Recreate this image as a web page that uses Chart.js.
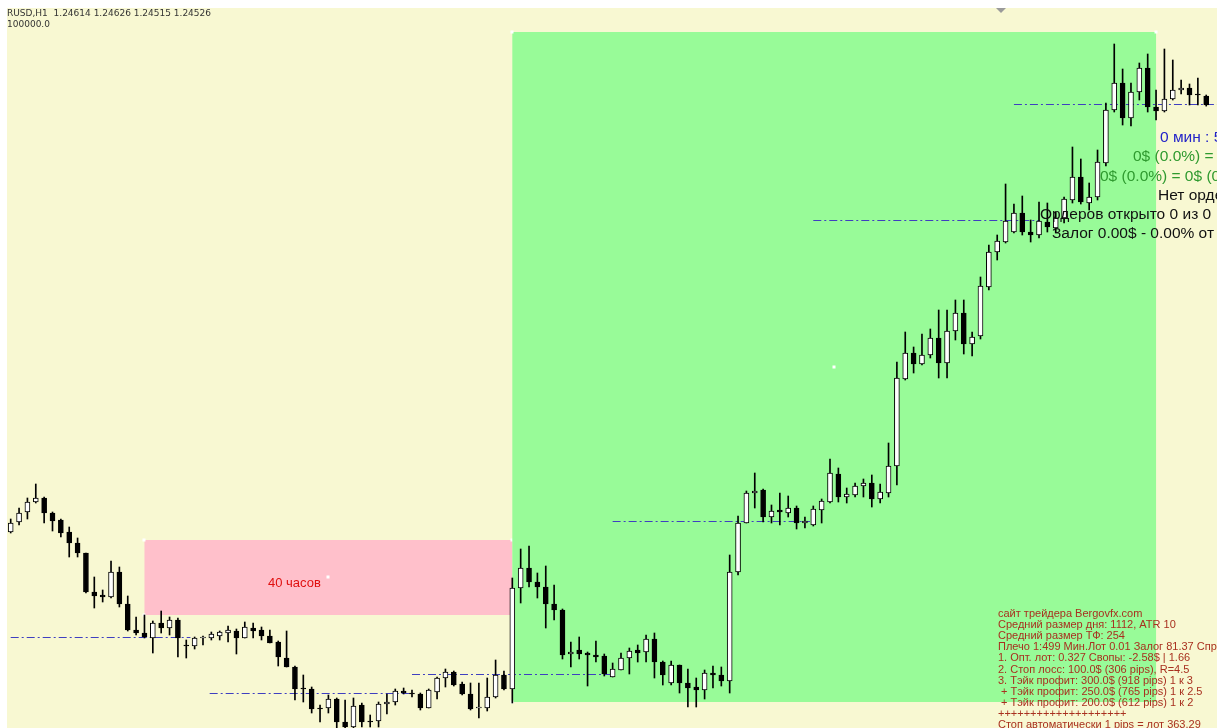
<!DOCTYPE html>
<html>
<head>
<meta charset="utf-8">
<script src="https://cdn.jsdelivr.net/npm/chart.js@4.4.0/dist/chart.umd.min.js"></script>
<style>
  html, body { margin: 0; padding: 0; background: #fff; overflow: hidden; }
  #wrap { width: 1217px; height: 728px; }
</style>
</head>
<body>
<div id="wrap"><canvas id="chart" width="1217" height="728"></canvas></div>
<script>
// H1 bars, oldest first
const opens = [
  1.20256, 1.20356, 1.20456, 1.20556, 1.20596, 1.20446, 1.20376, 1.20256, 1.20146, 1.20046,
  1.19656, 1.19626, 1.19606, 1.19856, 1.19536, 1.19276, 1.19246, 1.19196, 1.19346, 1.19296,
  1.19376, 1.19126, 1.19116, 1.19196, 1.19196, 1.19216, 1.19246, 1.19266, 1.19196, 1.19296,
  1.19276, 1.19216, 1.19156, 1.18996, 1.18906, 1.18696, 1.18686, 1.18496, 1.18496, 1.18586,
  1.18356, 1.18306, 1.18526, 1.18366, 1.18366, 1.18536, 1.18556, 1.18666, 1.18646, 1.18636,
  1.18496, 1.18656, 1.18796, 1.18856, 1.18736, 1.18636, 1.18496, 1.18496, 1.18606, 1.18826,
  1.18686, 1.19696, 1.19896, 1.19756, 1.19706, 1.19536, 1.19476, 1.19036, 1.19076, 1.19046,
  1.19026, 1.19016, 1.18806, 1.18876, 1.18996, 1.19076, 1.19056, 1.19186, 1.18956, 1.18746,
  1.18926, 1.18746, 1.18706, 1.18676, 1.18846, 1.18826, 1.18766, 1.19856, 1.20346, 1.20646,
  1.20676, 1.20406, 1.20476, 1.20446, 1.20496, 1.20346, 1.20326, 1.20476, 1.20556, 1.20836,
  1.20606, 1.20626, 1.20716, 1.20746, 1.20586, 1.20646, 1.20916, 1.21786, 1.22046, 1.21936,
  1.22026, 1.22196, 1.21946, 1.22266, 1.22446, 1.22136, 1.22216, 1.22706, 1.23056, 1.23156,
  1.23256, 1.23446, 1.23256, 1.23226, 1.23356, 1.23296, 1.23396, 1.23576, 1.23806, 1.23546,
  1.23606, 1.23946, 1.24476, 1.24746, 1.24396, 1.24656, 1.24896, 1.24506, 1.24466, 1.24586,
  1.24676, 1.24696, 1.24636, 1.24614
];
const highs = [
  1.20386, 1.20496, 1.20596, 1.20736, 1.20606, 1.20456, 1.20386, 1.20306, 1.20196, 1.20046,
  1.19806, 1.19676, 1.19966, 1.19906, 1.19616, 1.19406, 1.19426, 1.19366, 1.19466, 1.19406,
  1.19396, 1.19176, 1.19206, 1.19216, 1.19256, 1.19266, 1.19316, 1.19286, 1.19356, 1.19346,
  1.19306, 1.19276, 1.19166, 1.19266, 1.18916, 1.18826, 1.18706, 1.18526, 1.18626, 1.18596,
  1.18576, 1.18596, 1.18546, 1.18426, 1.18556, 1.18636, 1.18686, 1.18696, 1.18676, 1.18646,
  1.18686, 1.18806, 1.18886, 1.18866, 1.18756, 1.18746, 1.18746, 1.18796, 1.18976, 1.18866,
  1.19796, 1.20086, 1.20116, 1.19846, 1.19916, 1.19726, 1.19486, 1.19156, 1.19206, 1.19056,
  1.19166, 1.19036, 1.18946, 1.19046, 1.19096, 1.19126, 1.19226, 1.19246, 1.18966, 1.18966,
  1.18926, 1.18886, 1.18796, 1.18876, 1.18916, 1.18906, 1.20026, 1.20416, 1.20666, 1.20846,
  1.20686, 1.20526, 1.20646, 1.20616, 1.20516, 1.20406, 1.20516, 1.20586, 1.20986, 1.20896,
  1.20696, 1.20746, 1.20786, 1.20826, 1.20736, 1.21146, 1.21956, 1.22256, 1.22106, 1.22236,
  1.22286, 1.22476, 1.22476, 1.22576, 1.22576, 1.22256, 1.22806, 1.23126, 1.23226, 1.23736,
  1.23536, 1.23616, 1.23376, 1.23556, 1.23546, 1.23456, 1.23606, 1.24106, 1.23986, 1.23746,
  1.24076, 1.24546, 1.25136, 1.24886, 1.24746, 1.24946, 1.25036, 1.24676, 1.25086, 1.24976,
  1.24776, 1.24736, 1.24796, 1.24626
];
const lows = [
  1.20246, 1.20326, 1.20386, 1.20546, 1.20346, 1.20266, 1.20206, 1.20006, 1.20006, 1.19646,
  1.19496, 1.19556, 1.19596, 1.19506, 1.19266, 1.19226, 1.19196, 1.19046, 1.19246, 1.19226,
  1.19006, 1.18996, 1.19086, 1.19126, 1.19176, 1.19176, 1.19156, 1.19036, 1.19196, 1.19196,
  1.19176, 1.19146, 1.18916, 1.18906, 1.18576, 1.18556, 1.18446, 1.18356, 1.18446, 1.18296,
  1.18276, 1.18296, 1.18306, 1.18306, 1.18306, 1.18436, 1.18526, 1.18636, 1.18606, 1.18476,
  1.18496, 1.18586, 1.18706, 1.18716, 1.18626, 1.18476, 1.18396, 1.18466, 1.18596, 1.18676,
  1.18546, 1.19546, 1.19706, 1.19596, 1.19296, 1.19376, 1.18986, 1.18906, 1.18986, 1.18716,
  1.18956, 1.18816, 1.18806, 1.18876, 1.18836, 1.18956, 1.18956, 1.18796, 1.18726, 1.18726,
  1.18646, 1.18506, 1.18506, 1.18586, 1.18696, 1.18716, 1.18646, 1.19826, 1.20346, 1.20496,
  1.20356, 1.20346, 1.20326, 1.20406, 1.20286, 1.20296, 1.20316, 1.20346, 1.20546, 1.20556,
  1.20546, 1.20606, 1.20606, 1.20506, 1.20546, 1.20606, 1.20726, 1.21776, 1.21846, 1.21926,
  1.21996, 1.21796, 1.21796, 1.22176, 1.22036, 1.22016, 1.22186, 1.22676, 1.22976, 1.23146,
  1.23246, 1.23226, 1.23156, 1.23196, 1.23256, 1.23246, 1.23346, 1.23546, 1.23536, 1.23476,
  1.23576, 1.23916, 1.24456, 1.24326, 1.24316, 1.24576, 1.24456, 1.24376, 1.24456, 1.24576,
  1.24636, 1.24526, 1.24526, 1.24515
];
const closes = [
  1.20346, 1.20446, 1.20556, 1.20596, 1.20446, 1.20366, 1.20246, 1.20146, 1.20046, 1.19656,
  1.19616, 1.19606, 1.19856, 1.19536, 1.19276, 1.19246, 1.19206, 1.19346, 1.19296, 1.19376,
  1.19196, 1.19116, 1.19196, 1.19206, 1.19236, 1.19256, 1.19276, 1.19196, 1.19306, 1.19266,
  1.19216, 1.19146, 1.19006, 1.18906, 1.18686, 1.18686, 1.18486, 1.18486, 1.18586, 1.18356,
  1.18306, 1.18516, 1.18356, 1.18356, 1.18536, 1.18556, 1.18666, 1.18646, 1.18636, 1.18496,
  1.18676, 1.18796, 1.18856, 1.18726, 1.18636, 1.18486, 1.18506, 1.18606, 1.18826, 1.18686,
  1.19696, 1.19896, 1.19756, 1.19706, 1.19536, 1.19476, 1.19026, 1.19056, 1.19036, 1.19026,
  1.19006, 1.18836, 1.18886, 1.18996, 1.19066, 1.19046, 1.19186, 1.18956, 1.18826, 1.18926,
  1.18746, 1.18696, 1.18676, 1.18846, 1.18826, 1.18766, 1.19856, 1.20346, 1.20646, 1.20666,
  1.20406, 1.20466, 1.20456, 1.20496, 1.20346, 1.20366, 1.20486, 1.20566, 1.20846, 1.20606,
  1.20636, 1.20716, 1.20746, 1.20586, 1.20656, 1.20916, 1.21796, 1.22046, 1.21936, 1.22026,
  1.22196, 1.21946, 1.22266, 1.22446, 1.22136, 1.22206, 1.22716, 1.23056, 1.23166, 1.23366,
  1.23446, 1.23256, 1.23226, 1.23366, 1.23306, 1.23396, 1.23586, 1.23806, 1.23556, 1.23606,
  1.23956, 1.24476, 1.24746, 1.24396, 1.24656, 1.24896, 1.24506, 1.24466, 1.24586, 1.24676,
  1.24696, 1.24626, 1.24626, 1.24526
];

// dash-dot price levels: price, first bar, last bar
const levelPrices = [1.19201, 1.18641, 1.18831, 1.20361, 1.23371, 1.24531];
const levelFrom = [0, 23.8, 48.0, 72.0, 96.0, 120.0];
const levelTo = [21.5, 48.0, 71.7, 95.6, 123.1, 146];

// rectangles (bar index / price)
const boxNames = ['pink', 'green'];
const boxFrom = [16, 60];
const boxTo = [60, 137];
const boxTop = [1.20176, 1.25256];
const boxBottom = [1.19426, 1.18556];
const boxColors = ['#ffc0cb', '#98fb98'];
const boxLabels = ['40 часов', ''];

const headerLines = ['RUSD,H1  1.24614 1.24626 1.24515 1.24526', '100000.0'];
const statusLines = [
  ['0 мин : 59 сек', '#2323c8', 1160],
  ['0$ (0.0%) = 0$ (0.0%)', '#2f9a2f', 1133],
  ['0$ (0.0%) = 0$ (0.0%)', '#2f9a2f', 1100],
  ['Нет ордеров', '#111', 1158],
  ['Ордеров открыто 0 из 0', '#111', 1040],
  ['Залог 0.00$ - 0.00% от депозита', '#111', 1052]
];
const infoLines = [
  'сайт трейдера Bergovfx.com',
  'Средний размер дня: 1112, ATR 10',
  'Средний размер ТФ: 254',
  'Плечо 1:499 Мин.Лот 0.01 Залог 81.37 Спред',
  '1. Опт. лот: 0.327 Свопы: -2.58$ | 1.66',
  '2. Стоп лосс: 100.0$ (306 pips), R=4.5',
  '3. Тэйк профит: 300.0$ (918 pips) 1 к 3',
  ' + Тэйк профит: 250.0$ (765 pips) 1 к 2.5',
  ' + Тэйк профит: 200.0$ (612 pips) 1 к 2',
  '++++++++++++++++++++',
  'Стоп автоматически 1 pips = лот 363.29'
];

const idx = opens.map((_, i) => i);
const wicks = idx.map(i => ({ x: i, y: [lows[i], highs[i]] }));
const bodies = idx.map(i => ({ x: i, y: [opens[i], closes[i]] }));
const bodyColors = idx.map(i => closes[i] >= opens[i] ? '#ffffff' : '#000000');

const levelSets = levelPrices.map((p, k) => ({
  type: 'line',
  data: [{ x: levelFrom[k], y: p }, { x: levelTo[k], y: p }],
  borderColor: '#3f3fc0',
  borderWidth: 1,
  borderDash: [8, 3, 2, 3],
  pointRadius: 0,
  order: 2
}));

const mtPlugin = {
  id: 'mt',
  beforeDraw(chart) {
    const { ctx, width, height } = chart;
    ctx.save();
    ctx.fillStyle = '#ffffff';
    ctx.fillRect(0, 0, width, height);
    ctx.fillStyle = '#f8f8d2';
    ctx.fillRect(7, 8, width - 7, height - 8);
    // small marker at the top
    ctx.fillStyle = '#9a9a9a';
    ctx.beginPath();
    ctx.moveTo(996, 8); ctx.lineTo(1006, 8); ctx.lineTo(1001, 13); ctx.closePath();
    ctx.fill();
    ctx.restore();
  },
  beforeDatasetsDraw(chart) {
    const { ctx, scales: { x, y } } = chart;
    ctx.save();
    boxNames.forEach((n, k) => {
      const x0 = x.getPixelForValue(boxFrom[k]);
      const x1 = x.getPixelForValue(boxTo[k]);
      const y0 = y.getPixelForValue(boxTop[k]);
      const y1 = y.getPixelForValue(boxBottom[k]);
      ctx.fillStyle = boxColors[k];
      ctx.fillRect(x0, y0, x1 - x0, y1 - y0);
      if (boxLabels[k]) {
        ctx.fillStyle = '#e01010';
        ctx.font = '13px "Liberation Sans", Arial, sans-serif';
        ctx.textBaseline = 'middle';
        ctx.textAlign = 'center';
        ctx.fillText(boxLabels[k], (x0 + x1) / 2 - 34, (y0 + y1) / 2 + 6);
      }
      // anchor handles
      ctx.fillStyle = '#ffffff';
      [[x0, y0], [x1, y0], [x0, y1], [(x0 + x1) / 2, (y0 + y1) / 2]].forEach(([px, py]) => {
        ctx.fillRect(Math.round(px) - 1.5, Math.round(py) - 1.5, 3, 3);
      });
    });
    ctx.restore();
  },
  afterDatasetsDraw(chart) {
    const { ctx } = chart;
    ctx.save();
    ctx.textAlign = 'left';
    ctx.textBaseline = 'middle';
    ctx.fillStyle = '#333';
    ctx.font = '9px "DejaVu Sans", sans-serif';
    headerLines.forEach((t, k) => ctx.fillText(t, 7, 14 + k * 11));

    ctx.font = '15.5px "Liberation Sans", Arial, sans-serif';
    statusLines.forEach(([t, c, px], k) => {
      ctx.fillStyle = c;
      ctx.fillText(t, px, 138 + k * 19.2);
    });

    ctx.font = '11px "Liberation Sans", Arial, sans-serif';
    ctx.fillStyle = '#a8301f';
    infoLines.forEach((t, k) => ctx.fillText(t, 998, 614 + k * 11.1));
    ctx.restore();
  }
};

new Chart(document.getElementById('chart'), {
  type: 'bar',
  data: {
    datasets: [
      {
        data: bodies,
        backgroundColor: bodyColors,
        borderColor: '#000000',
        borderWidth: 1,
        borderSkipped: false,
        barThickness: 5,
        grouped: false,
        order: 0
      },
      {
        data: wicks,
        backgroundColor: '#000000',
        borderWidth: 0,
        barThickness: 1,
        grouped: false,
        order: 1
      },
      ...levelSets
    ]
  },
  options: {
    responsive: false,
    animation: false,
    devicePixelRatio: 1,
    layout: { padding: 0 },
    plugins: { legend: { display: false }, tooltip: { enabled: false } },
    scales: {
      x: { type: 'linear', min: -1.28, max: 144.29, offset: false, display: false },
      y: { min: 1.18296, max: 1.25576, display: false }
    }
  },
  plugins: [mtPlugin]
});
</script>
</body>
</html>
